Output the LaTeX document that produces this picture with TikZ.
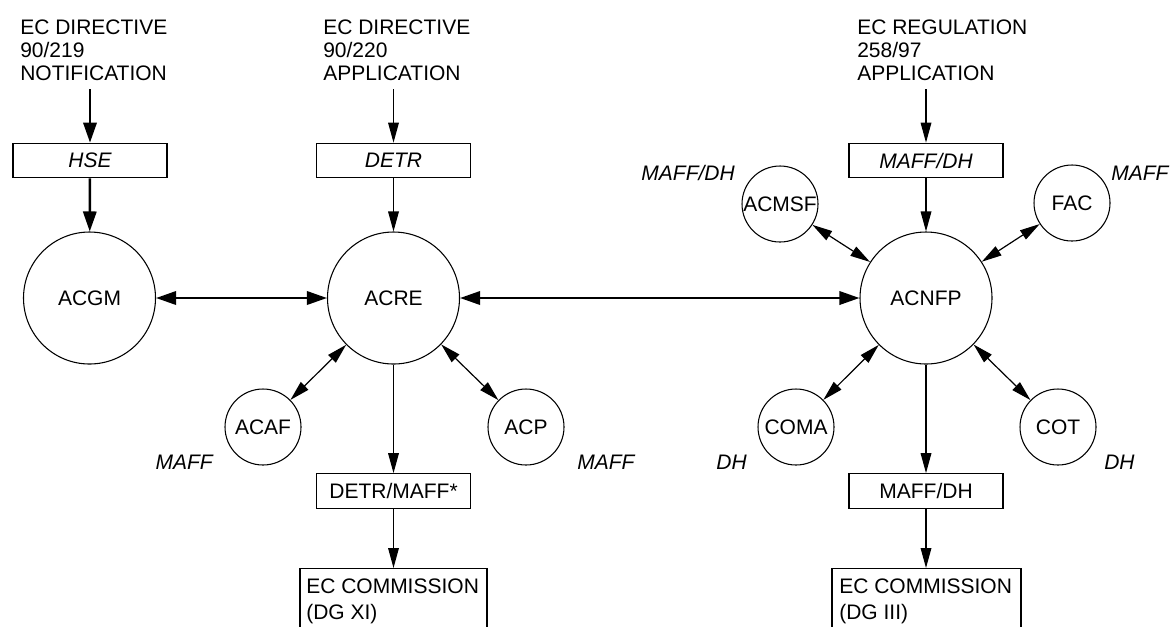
\documentclass[tikz,border=0pt]{standalone}
\usepackage{fontspec}
\setmainfont{Liberation Sans}
\usetikzlibrary{arrows.meta}
\begin{document}
\begin{tikzpicture}[x=0.75pt,y=-0.75pt,
  every node/.style={font=\fontsize{15.75}{17.25}\selectfont, inner sep=0pt},
  big/.style={circle,draw,line width=0.8pt,minimum size=99pt},
  small/.style={circle,draw,line width=0.8pt,minimum size=57pt},
  agency/.style={draw,line width=0.8pt,minimum width=115.5pt,minimum height=26pt},
  ecframe/.style={draw,line width=0.8pt,minimum height=90pt,anchor=north},
  ectext/.style={anchor=north west,align=left,font=\fontsize{15.75}{19.5}\selectfont},
  head/.style={anchor=north west,align=left},
  lab/.style={font=\fontsize{15.75}{17.25}\selectfont\itshape},
  flow/.style={line width=0.9pt,-{Triangle[length=15pt,width=8pt]}},
  boldflow/.style={line width=1.8pt,-{Triangle[length=15pt,width=10pt]}},
  both/.style={line width=0.9pt,{Triangle[length=15pt,width=8pt]}-{Triangle[length=15pt,width=8pt]}},
  boldboth/.style={line width=1.8pt,{Triangle[length=15pt,width=10pt]}-{Triangle[length=15pt,width=10pt]}}
]
\useasboundingbox (0,0) rectangle (1173,626);

% headings
\node[head] (t1) at (20,19.5) {EC DIRECTIVE\\90/219\\NOTIFICATION};
\node[head] (t2) at (323,19.5) {EC DIRECTIVE\\90/220\\APPLICATION};
\node[head] (t3) at (857,19.5) {EC REGULATION\\258/97\\APPLICATION};
\coordinate (s1) at (90,89);
\coordinate (s2) at (393.5,89);
\coordinate (s3) at (926,89);

% agency boxes
\node[agency] (hse) at (90,160.5) {\itshape HSE};
\node[agency] (detr) at (393.5,160.5) {\itshape DETR};
\node[agency] (maffdhA) at (926,160.5) {\itshape MAFF/DH};
\node[agency] (detrmaff) at (393.5,491) {DETR/MAFF*};
\node[agency] (maffdhB) at (926,491) {MAFF/DH};

% committees
\node[big] (acgm) at (89.5,298) {ACGM};
\node[big] (acre) at (393.5,298) {ACRE};
\node[big] (acnfp) at (926,298) {ACNFP};
\node[small] (acmsf) at (780,204) {ACMSF};
\node[small] (fac) at (1072,203) {FAC};
\node[small] (acaf) at (263,427) {ACAF};
\node[small] (acp) at (526,427) {ACP};
\node[small] (coma) at (796,427) {COMA};
\node[small] (cot) at (1058,427) {COT};

% commission boxes (open at the bottom edge)
\node[ecframe,minimum width=140.25pt] (ec1) at (393.5,568) {};
\node[ecframe,minimum width=141.75pt] (ec2) at (926.5,568) {};
\node[ectext] (ec1t) at (306,578.5) {EC COMMISSION\\(DG XI)};
\node[ectext] (ec2t) at (839,578.5) {EC COMMISSION\\(DG III)};

% department labels
\node[lab,anchor=base east] (l1) at (735,180.5) {MAFF/DH};
\node[lab,anchor=base west] (l2) at (1111,180.5) {MAFF};
\node[lab,anchor=base east] (l3) at (213,469.5) {MAFF};
\node[lab,anchor=base west] (l4) at (577,469.5) {MAFF};
\node[lab,anchor=base east] (l5) at (747,469.5) {DH};
\node[lab,anchor=base west] (l6) at (1104,469.5) {DH};

% connectors
\draw[boldflow] (s1) -- (hse);
\draw[boldflow] (hse) -- (acgm);
\draw[flow] (s2) -- (detr);
\draw[flow] (detr) -- (acre);
\draw[flow] (s3) -- (maffdhA);
\draw[flow] (maffdhA) -- (acnfp);
\draw[boldboth] (acgm) -- (acre);
\draw[boldboth] (acre) -- (acnfp);
\draw[both] (acre) -- (acaf);
\draw[both] (acre) -- (acp);
\draw[both] (acnfp) -- (acmsf);
\draw[both] (acnfp) -- (fac);
\draw[both] (acnfp) -- (coma);
\draw[both] (acnfp) -- (cot);
\draw[flow] (acre) -- (detrmaff);
\draw[flow] (detrmaff) -- (ec1);
\draw[flow] (acnfp) -- (maffdhB);
\draw[flow] (maffdhB) -- (ec2.north -| maffdhB);
\end{tikzpicture}
\end{document}
